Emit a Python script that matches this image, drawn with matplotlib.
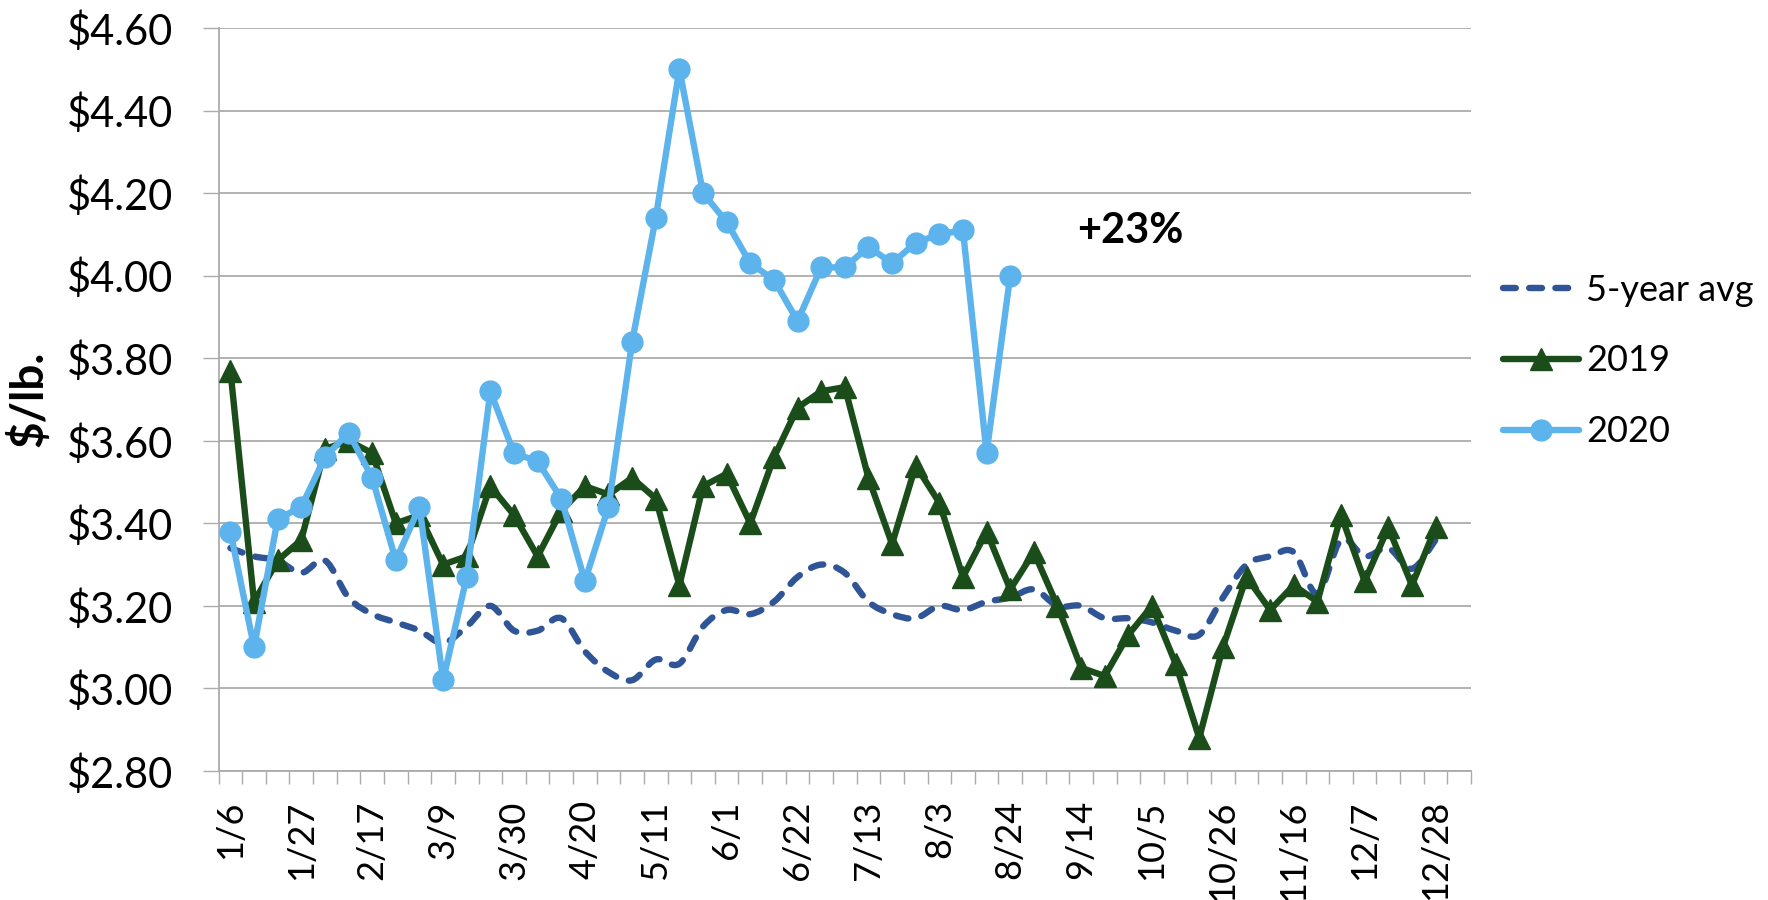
import numpy as np
import matplotlib
matplotlib.use("Agg")
import matplotlib.pyplot as plt
from matplotlib.path import Path
from matplotlib.patches import PathPatch
from matplotlib.lines import Line2D

# ---------------- data ----------------
weeks = ["1/6", "1/13", "1/20", "1/27", "2/3", "2/10", "2/17", "2/24", "3/2", "3/9",
         "3/16", "3/23", "3/30", "4/6", "4/13", "4/20", "4/27", "5/4", "5/11", "5/18",
         "5/25", "6/1", "6/8", "6/15", "6/22", "6/29", "7/6", "7/13", "7/20", "7/27",
         "8/3", "8/10", "8/17", "8/24", "8/31", "9/7", "9/14", "9/21", "9/28", "10/5",
         "10/12", "10/19", "10/26", "11/2", "11/9", "11/16", "11/23", "11/30", "12/7",
         "12/14", "12/21", "12/28", "1/4"]

five_year_avg = [3.34, 3.32, 3.31, 3.28, 3.31, 3.22, 3.18, 3.16, 3.14, 3.11,
                 3.15, 3.20, 3.14, 3.14, 3.17, 3.09, 3.04, 3.02, 3.07, 3.06,
                 3.15, 3.19, 3.18, 3.21, 3.27, 3.30, 3.28, 3.21, 3.18, 3.17,
                 3.20, 3.19, 3.21, 3.22, 3.24, 3.20, 3.20, 3.17, 3.17, 3.16,
                 3.14, 3.13, 3.22, 3.30, 3.32, 3.33, 3.23, 3.36, 3.32, 3.34,
                 3.29, 3.36]

y2019 = [3.77, 3.21, 3.31, 3.36, 3.58, 3.60, 3.57, 3.40, 3.42, 3.30,
         3.32, 3.49, 3.42, 3.32, 3.43, 3.49, 3.47, 3.51, 3.46, 3.25,
         3.49, 3.52, 3.40, 3.56, 3.68, 3.72, 3.73, 3.51, 3.35, 3.54,
         3.45, 3.27, 3.38, 3.24, 3.33, 3.20, 3.05, 3.03, 3.13, 3.20,
         3.06, 2.88, 3.10, 3.27, 3.19, 3.25, 3.21, 3.42, 3.26, 3.39,
         3.25, 3.39]

y2020 = [3.38, 3.10, 3.41, 3.44, 3.56, 3.62, 3.51, 3.31, 3.44, 3.02,
         3.27, 3.72, 3.57, 3.55, 3.46, 3.26, 3.44, 3.84, 4.14, 4.50,
         4.20, 4.13, 4.03, 3.99, 3.89, 4.02, 4.02, 4.07, 4.03, 4.08,
         4.10, 4.11, 3.57, 4.00]

series_names = ["5-year avg", "2019", "2020"]
y_ticks = [2.80, 3.00, 3.20, 3.40, 3.60, 3.80, 4.00, 4.20, 4.40, 4.60]
annotation = "+23%"
y_label = "$/lb."

# ---------------- style ----------------
C_AVG = "#2F5597"
C_2019 = "#1B4D1B"
C_2020 = "#5DB3EC"
C_GRID = "#ABABAB"
LW = 4.6
DASH = (0, (2.0, 2.1))
FONT = "Lato"

fig = plt.figure(figsize=(17.68, 9.00), dpi=100)
ax = fig.add_axes([218.6 / 1768, 1 - 771 / 900, (1471 - 218.6) / 1768, (771 - 28) / 900])

n_cat = len(weeks)

# smoothed 5-year average (Bezier curve through the points, like a smoothed line)
xa = np.arange(len(five_year_avg), dtype=float)
ya = np.array(five_year_avg, dtype=float)
pts = np.column_stack([xa, ya])
verts = [tuple(pts[0])]
codes = [Path.MOVETO]
for i in range(len(pts) - 1):
    p0 = pts[max(i - 1, 0)]
    p1 = pts[i]
    p2 = pts[i + 1]
    p3 = pts[min(i + 2, len(pts) - 1)]
    c1 = p1 + (p2 - p0) / 6.0
    c2 = p2 - (p3 - p1) / 6.0
    verts += [tuple(c1), tuple(c2), tuple(p2)]
    codes += [Path.CURVE4] * 3
avg_patch = PathPatch(Path(verts, codes), fill=False, edgecolor=C_AVG, lw=LW,
                      linestyle=DASH, capstyle="round", joinstyle="round", zorder=3)
ax.add_patch(avg_patch)

ax.plot(np.arange(len(y2019)), y2019, color=C_2019, lw=LW, marker="^",
        markersize=16, solid_joinstyle="round", solid_capstyle="round", zorder=4)
ax.plot(np.arange(len(y2020)), y2020, color=C_2020, lw=LW, marker="o",
        markersize=15, solid_joinstyle="round", solid_capstyle="round", zorder=5)

# axes
ax.set_xlim(-0.5, n_cat - 0.5)
ax.set_ylim(y_ticks[0], y_ticks[-1])
ax.set_yticks(y_ticks)
ax.set_yticklabels([f"${v:.2f}" for v in y_ticks], fontsize=30, family=FONT)
major_idx = list(range(0, 52, 3))
ax.set_xticks(major_idx)
ax.set_xticklabels([weeks[i] for i in major_idx], rotation=90, fontsize=26,
                   family=FONT, va="top", ha="center")
ax.set_xticks(np.arange(-0.5, n_cat, 1.0), minor=True)
ax.tick_params(axis="x", which="major", length=0, pad=21)
ax.tick_params(axis="x", which="minor", length=9, width=1, color=C_GRID)
ax.tick_params(axis="y", which="major", length=11.5, width=1, color=C_GRID, pad=21.5)

ax.grid(axis="y", color=C_GRID, lw=1.3, zorder=0)
ax.set_axisbelow(True)
for s in ["top", "right"]:
    ax.spines[s].set_visible(False)
for s in ["left", "bottom"]:
    ax.spines[s].set_color(C_GRID)
    ax.spines[s].set_linewidth(1.3)

fig.text(29 / 1768, 1 - 399 / 900, y_label, rotation=90, fontsize=33, family=FONT,
         fontweight="bold", ha="center", va="center")

ax.text(38.07, 4.108, annotation, fontsize=30, family=FONT, fontweight="bold",
        ha="center", va="center")

handles = [
    Line2D([], [], color=C_AVG, lw=LW, linestyle=DASH, dash_capstyle="round"),
    Line2D([], [], color=C_2019, lw=LW, marker="^", markersize=16, solid_capstyle="round"),
    Line2D([], [], color=C_2020, lw=LW, marker="o", markersize=15, solid_capstyle="round"),
]
fig.legend(handles, series_names, loc="center left", bbox_to_anchor=(1503 / 1768, 1 - 361 / 900),
           frameon=False, prop={"family": FONT, "size": 26}, handlelength=2.1,
           handletextpad=0.2, labelspacing=1.05, borderpad=0, borderaxespad=0)

fig.savefig("out.png", dpi=100)
